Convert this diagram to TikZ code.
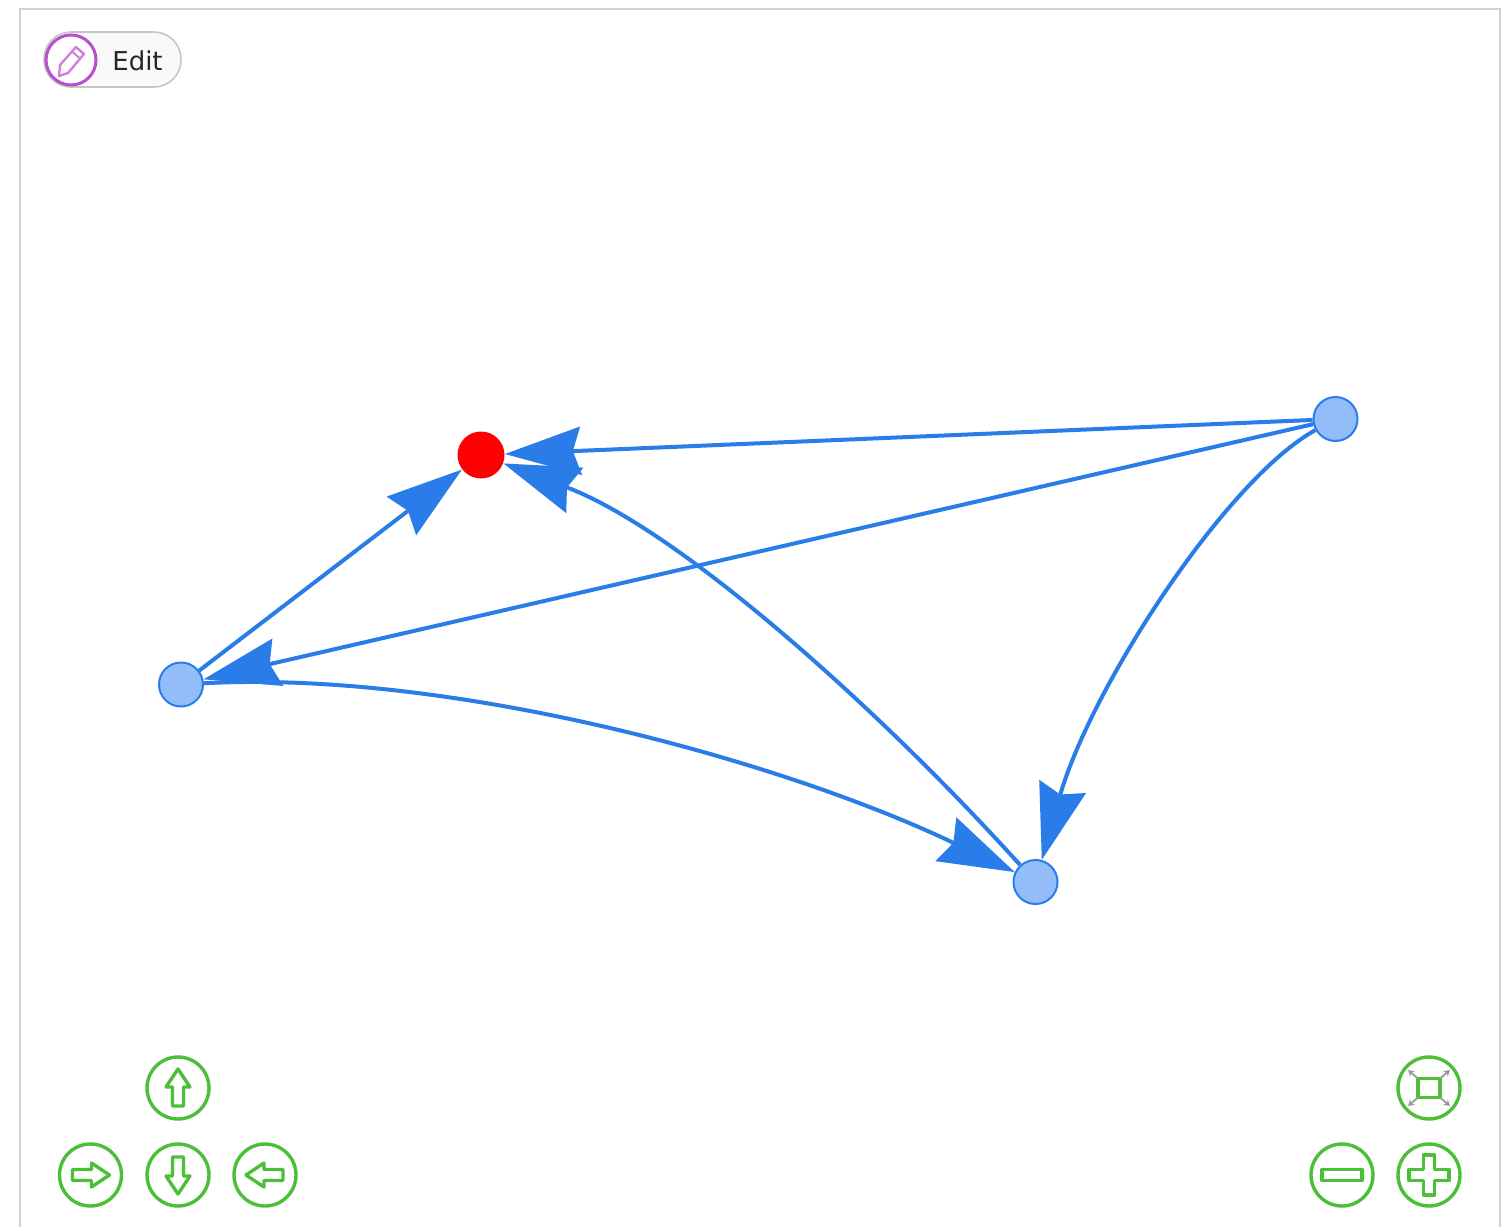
\documentclass[tikz,border=0pt]{standalone}
\usepackage{fontspec}
\setmainfont{DejaVu Sans}
\usetikzlibrary{arrows.meta}
\definecolor{linkblue}{HTML}{2A7DE8}
\definecolor{nodeblue}{HTML}{93BDF9}
\definecolor{navgreen}{HTML}{4CBF38}
\definecolor{editpurple}{HTML}{B850CC}
\definecolor{penpurple}{HTML}{D080DC}
\definecolor{framegray}{HTML}{D2D2D2}
\tikzset{
  linkline/.style={draw=linkblue,line width=2pt,-{Stealth[length=38pt,width=24pt,inset=4pt]}},
  vertex/.style={circle,minimum size=22pt,inner sep=0pt,fill=nodeblue,draw=linkblue,line width=1pt},
  hotvertex/.style={circle,minimum size=23.5pt,inner sep=0pt,fill=red},
  navbutton/.style={circle,minimum size=31pt,inner sep=0pt,draw=navgreen,line width=1.7pt,fill=white},
  navicon/.style={draw=navgreen,line width=1.7pt,line join=round,line cap=round},
  fiticon/.style={draw=gray!80,line width=0.9pt,-{Stealth[length=3pt,width=3.5pt]}},
}
\begin{document}
\begin{tikzpicture}[x=0.5pt,y=-0.5pt]
\useasboundingbox (0,0) rectangle (1501,1227);
\begin{scope}
\clip (0,0) rectangle (1501,1227);
\draw[framegray,line width=1pt] (19.5,8.5) rectangle (1499.5,1240);
\end{scope}

% Edit button
\node[draw=gray!45,fill=gray!5,line width=0.8pt,rounded corners=13.5pt,minimum width=68.5pt,minimum height=27.5pt,inner sep=0pt] (editpill) at (112.5,59.5) {};
\node[circle,minimum size=25pt,inner sep=0pt,draw=editpurple,line width=1.5pt,fill=white] (editcircle) at (71,60) {};
\draw[penpurple,line width=1.2pt,line join=round] (59,76) -- (60,65) -- (76,47) -- (84,54) -- (68,73) -- cycle;
\draw[penpurple,line width=1pt] (72,51.5) -- (80,58.5);
\node[inner sep=0pt,font=\fontsize{13}{15}\selectfont,text=black!85] (edittext) at (137.5,61) {Edit};

% Graph
\node[hotvertex] (R) at (481,455) {};
\node[vertex] (E) at (1335.5,419) {};
\node[vertex] (W) at (181,684.5) {};
\node[vertex] (S) at (1035.5,882) {};
\draw[linkline] (E) -- (R);
\draw[linkline] (E) -- (W);
\draw[linkline] (W) -- (R);
\draw[linkline] (E) .. controls (1225,480) and (1090,690) .. (S);
\draw[linkline] (S) .. controls (880,710) and (680,530) .. (R);
\draw[linkline] (W) .. controls (450,670) and (780,760) .. (S);

% Navigation buttons
\node[navbutton] (up) at (178,1088) {};
\node[navbutton] (left) at (90.5,1175) {};
\node[navbutton] (down) at (178,1175) {};
\node[navbutton] (right) at (265,1175) {};
\node[navbutton] (fit) at (1429,1088) {};
\node[navbutton] (minus) at (1342,1175) {};
\node[navbutton] (plus) at (1429,1175) {};

\newcommand{\navarrow}[2]{\draw[navicon,shift={(#1)},rotate=#2] (0,-19) -- (12,-1) -- (5.5,-1) -- (5.5,18) -- (-5.5,18) -- (-5.5,-1) -- (-12,-1) -- cycle;}
\navarrow{up}{0}
\navarrow{down}{180}
\navarrow{left}{-90}
\navarrow{right}{90}

\draw[navicon,shift={(plus)}] (-5.5,-5.5) -- (-5.5,-20) -- (5.5,-20) -- (5.5,-5.5) -- (20,-5.5) -- (20,5.5) -- (5.5,5.5) -- (5.5,20) -- (-5.5,20) -- (-5.5,5.5) -- (-20,5.5) -- (-20,-5.5) -- cycle;
\draw[navicon,shift={(minus)}] (-20,-5.5) rectangle (20,5.5);
\draw[navicon,shift={(fit)}] (-11,-9.5) rectangle (11,9.5);
\draw[fiticon,shift={(fit)}] (-11,-9.5) -- (-21,-18);
\draw[fiticon,shift={(fit)}] (11,-9.5) -- (21,-18);
\draw[fiticon,shift={(fit)}] (-11,9.5) -- (-21,18);
\draw[fiticon,shift={(fit)}] (11,9.5) -- (21,18);
\end{tikzpicture}
\end{document}
